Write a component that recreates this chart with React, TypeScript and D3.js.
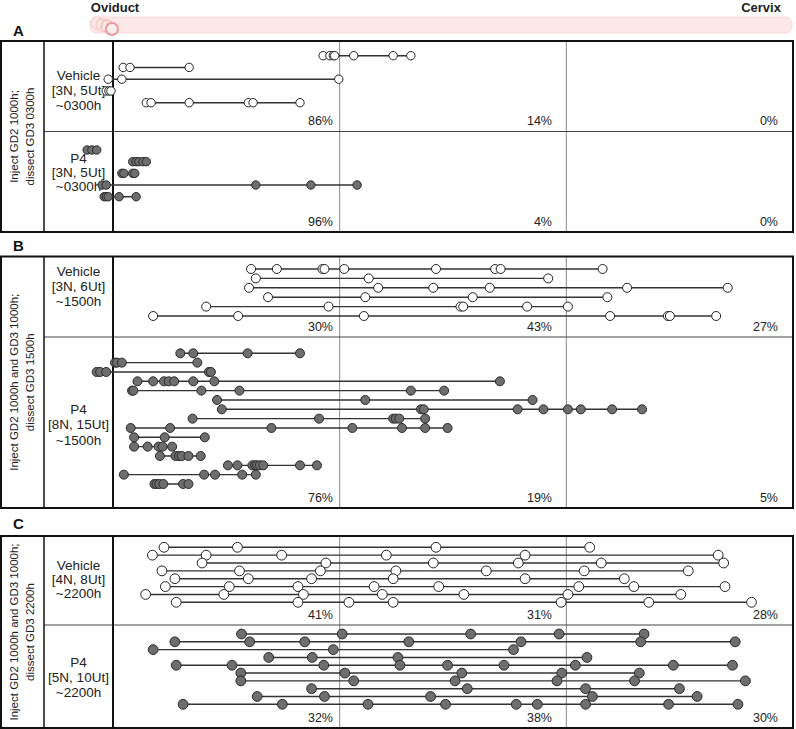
import React, { useEffect } from "react";
import * as d3 from "d3";

// Positions along the uterine horn, % of length from oviduct (0) to cervix (100)
const aVehicle: number[][] = [
  [30.9, 31.9, 32.4, 32.6, 35.4, 41.2, 43.8],
  [1.5, 2.5, 11.2],
  [-0.7, 1.3, 33.2],
  [-1.0, -0.6, -0.3],
  [4.9, 5.6, 11.2, 19.9, 20.6, 27.5],
];
const aP4: number[][] = [
  [-3.8, -3.1, -2.4],
  [2.9, 3.4, 3.8, 4.4, 4.9],
  [1.3, 1.6, 2.9, 3.2],
  [-1.6, -1.0, 21.0, 29.1, 35.9],
  [-1.3, -1.0, -0.7, 0.9, 3.4],
];
const bVehicle: number[][] = [
  [20.3, 24.1, 30.8, 31.1, 34.0, 47.5, 56.2, 57.0, 72.0],
  [21.0, 37.6, 64.0],
  [20.0, 39.0, 47.1, 55.4, 75.6, 90.4],
  [22.8, 37.1, 52.9, 72.7],
  [13.7, 31.7, 51.1, 51.5, 60.9, 66.9],
  [5.9, 18.4, 36.9, 73.1, 81.6, 81.9, 88.7],
];
const bP4: number[][] = [
  [9.9, 11.8, 19.8, 27.5],
  [0.3, 0.6, 1.3, 12.4],
  [-2.4, -1.9, -1.0, 14.1, 14.4],
  [3.6, 5.9, 7.5, 8.2, 9.0, 11.8, 14.9, 56.9],
  [2.8, 3.0, 13.0, 18.6, 43.8, 48.7],
  [15.3, 37.1, 61.7],
  [16.0, 45.3, 45.7, 59.5, 63.3, 66.9, 68.8, 73.4, 77.8],
  [11.7, 30.3, 41.2, 41.6, 42.1, 45.9],
  [2.6, 8.4, 23.3, 35.2, 42.5, 45.9, 49.2],
  [3.1, 7.6, 13.5],
  [3.1, 5.1, 6.7, 7.3, 8.7],
  [6.9, 9.2, 9.7, 10.1, 11.1, 12.9],
  [16.9, 18.3, 20.5, 20.9, 21.2, 21.6, 22.1, 27.5, 30.0],
  [1.6, 13.4, 15.0, 19.0, 21.0],
  [6.1, 6.4, 6.8, 7.4, 10.3, 11.1],
];
const cVehicle: number[][] = [
  [7.5, 18.3, 47.5, 70.1],
  [5.8, 13.7, 24.8, 40.2, 60.6, 89.0],
  [13.1, 31.3, 47.1, 59.6, 71.8, 89.8],
  [7.2, 18.6, 30.5, 41.6, 54.9, 69.3, 84.6],
  [9.1, 19.9, 29.2, 41.2, 60.6, 75.2],
  [7.7, 17.1, 27.2, 38.4, 47.9, 68.5, 76.6, 90.0],
  [4.8, 16.3, 28.0, 39.6, 51.6, 66.9, 83.5],
  [9.3, 27.2, 34.7, 41.2, 65.9, 78.8, 93.9],
];
const cP4: number[][] = [
  [18.9, 33.7, 52.6, 65.6, 78.1],
  [9.1, 20.1, 28.2, 43.5, 60.0, 77.6, 91.5],
  [5.9, 32.4, 58.9],
  [22.9, 29.3, 41.9, 69.7],
  [9.3, 17.5, 31.0, 42.2, 49.2, 57.5, 68.0, 82.4, 91.1],
  [18.8, 34.1, 51.3, 66.0, 77.4],
  [18.8, 35.4, 50.3, 65.3, 76.7, 93.0],
  [29.2, 52.1, 69.5, 83.3],
  [21.2, 31.1, 46.7, 70.5, 85.9],
  [10.3, 24.9, 37.5, 48.9, 59.3, 62.4, 69.5, 81.7, 91.9],
];

const panelLetters = ["A", "B", "C"];
const panelTitles: string[][] = [
  ["Inject GD2 1000h;", "dissect GD3 0300h"],
  ["Inject GD2 1000h and GD3 1000h;", "dissect GD3 1500h"],
  ["Inject GD2 1000h and GD3 1000h;", "dissect GD3 2200h"],
];
const groupLabels: string[][] = [
  ["Vehicle", "[3N, 5Ut]", "~0300h"],
  ["P4", "[3N, 5Ut]", "~0300h"],
  ["Vehicle", "[3N, 6Ut]", "~1500h"],
  ["P4", "[8N, 15Ut]", "~1500h"],
  ["Vehicle", "[4N, 8Ut]", "~2200h"],
  ["P4", "[5N, 10Ut]", "~2200h"],
];
const groupPercents: string[][] = [
  ["86%", "14%", "0%"],
  ["96%", "4%", "0%"],
  ["30%", "43%", "27%"],
  ["76%", "19%", "5%"],
  ["41%", "31%", "28%"],
  ["32%", "38%", "30%"],
];
const groupData = [aVehicle, aP4, bVehicle, bP4, cVehicle, cP4];
const groupKind = ["vehicle", "p4", "vehicle", "p4", "vehicle", "p4"];

// layout
const W = 796, H = 729;
const LEFT = 1, COL1 = 44, X0 = 113, X1 = 793;
const panels = [
  { top: 41, bottom: 232, divider: 131.5, letterY: 30, r: 4.2 },
  { top: 256.5, bottom: 508, divider: 337, letterY: 245, r: 4.5 },
  { top: 536, bottom: 728, divider: 625, letterY: 523, r: 4.9 },
];
const groupRows: [number, number][] = [
  [55.7, 102.7],
  [150, 196.7],
  [269, 316],
  [353.3, 484],
  [547.3, 602.3],
  [634, 704.3],
];
const groupLabelY: number[][] = [
  [75, 90.7, 105.7],
  [158.5, 172.5, 186.5],
  [271, 286, 301.7],
  [409, 424.3, 440],
  [565, 579, 593],
  [662, 677, 692],
];
const pctX = [333, 552, 778];

const FONT = "Arial, 'Liberation Sans', Helvetica, sans-serif";

export default function App() {
  useEffect(() => {
    document.body.style.margin = "0";
  }, []);
  const x = d3.scaleLinear().domain([0, 100]).range([X0, X1]);
  const thirds = [100 / 3, 200 / 3];

  return (
    <svg width={W} height={H} style={{ position: "absolute", left: 0, top: 0, background: "#fff" }} fontFamily={FONT}>
      {/* header */}
      <text x={115} y={7.5} textAnchor="middle" dominantBaseline="central" fontSize={13} fontWeight="bold" fill="#222">Oviduct</text>
      <text x={761} y={7.5} textAnchor="middle" dominantBaseline="central" fontSize={13} fontWeight="bold" fill="#222">Cervix</text>
      <rect x={90} y={17} width={702} height={16} rx={6} fill="#fde8e8" stroke="#fcd8d8" strokeWidth={1} />
      <circle cx={97} cy={23} r={6} fill="none" stroke="#f6d4d4" strokeWidth={1.5} />
      <circle cx={102} cy={25} r={6} fill="none" stroke="#f4cccc" strokeWidth={1.5} />
      <circle cx={107} cy={26} r={6} fill="none" stroke="#f0c4c4" strokeWidth={1.5} />
      <circle cx={112} cy={29} r={6} fill="#fdeeee" stroke="#ea9a9a" strokeWidth={2} />

      {panels.map((p, pi) => (
        <g key={pi}>
          <text x={18.5} y={p.letterY} textAnchor="middle" dominantBaseline="central" fontSize={15} fontWeight="bold" fill="#111">{panelLetters[pi]}</text>
          {thirds.map((t, i) => (
            <line key={i} x1={x(t)} x2={x(t)} y1={p.top} y2={p.bottom} stroke="#8a8a8a" strokeWidth={1} />
          ))}
          <line x1={COL1} x2={X1} y1={p.divider} y2={p.divider} stroke="#444" strokeWidth={1} />
          <line x1={COL1} x2={COL1} y1={p.top} y2={p.bottom} stroke="#111" strokeWidth={1.5} />
          <line x1={X0} x2={X0} y1={p.top} y2={p.bottom} stroke="#111" strokeWidth={2} />
          <rect x={LEFT} y={p.top} width={X1 - LEFT} height={p.bottom - p.top} fill="none" stroke="#111" strokeWidth={2} />
          <g transform={`translate(${22},${(p.top + p.bottom) / 2}) rotate(-90)`}>
            <text x={0} y={-8} textAnchor="middle" dominantBaseline="central" fontSize={11.5} fill="#222">{panelTitles[pi][0]}</text>
            <text x={0} y={8} textAnchor="middle" dominantBaseline="central" fontSize={11.5} fill="#222">{panelTitles[pi][1]}</text>
          </g>
        </g>
      ))}

      {groupData.map((rows, gi) => {
        const y = d3.scalePoint<number>().domain(d3.range(rows.length)).range(groupRows[gi]);
        const pi = Math.floor(gi / 2);
        const bottom = gi % 2 === 0 ? panels[pi].divider : panels[pi].bottom;
        const isP4 = groupKind[gi] === "p4";
        const r = panels[pi].r;
        return (
          <g key={gi}>
            {groupLabels[gi].map((t, i) => (
              <text key={i} x={78.5} y={groupLabelY[gi][i]} textAnchor="middle" dominantBaseline="central" fontSize={13.5} fill="#222">{t}</text>
            ))}
            {groupPercents[gi].map((t, i) => (
              <text key={i} x={pctX[i]} y={bottom - 10.5} textAnchor="end" dominantBaseline="central" fontSize={12.5} fill="#222">{t}</text>
            ))}
            {rows.map((row, ri) => {
              const ext = d3.extent(row) as [number, number];
              return (
                <g key={ri}>
                  <line x1={x(ext[0])} x2={x(ext[1])} y1={y(ri)!} y2={y(ri)!} stroke="#333" strokeWidth={1.4} />
                  {row.map((v, vi) => (
                    <circle key={vi} cx={x(v)} cy={y(ri)!} r={r}
                      fill={isP4 ? "#6e6e6e" : "#fff"} stroke={isP4 ? "#2a2a2a" : "#222"} strokeWidth={1} />
                  ))}
                </g>
              );
            })}
          </g>
        );
      })}
    </svg>
  );
}
